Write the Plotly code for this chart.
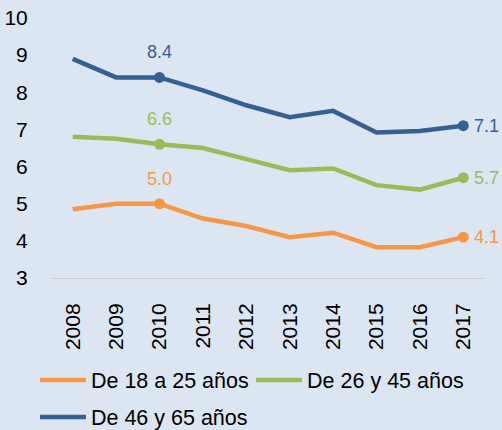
import plotly.graph_objects as go

years = ["2008", "2009", "2010", "2011", "2012", "2013", "2014", "2015", "2016", "2017"]
s18_25 = [4.85, 5.0, 5.0, 4.6, 4.4, 4.1, 4.22, 3.83, 3.83, 4.1]
s26_45 = [6.8, 6.75, 6.6, 6.5, 6.2, 5.9, 5.95, 5.5, 5.38, 5.7]
s46_65 = [8.9, 8.4, 8.4, 8.05, 7.65, 7.33, 7.5, 6.92, 6.96, 7.1]
names = ["De 18 a 25 años", "De 26 y 45 años", "De 46 y 65 años"]
colors = ["#F79646", "#9BBB59", "#376092"]
label_idx = [2, 9]

FONT = "Arial, Liberation Sans, sans-serif"
TICK = 21
fig = go.Figure()
annotations = []
legends = ["legend", "legend2", "legend3"]
for name, vals, col, lg in zip(names, [s18_25, s26_45, s46_65], colors, legends):
    fig.add_trace(go.Scatter(
        x=years, y=vals, name=name, mode="lines", legend=lg,
        line=dict(color=col, width=4.5),
    ))
    fig.add_trace(go.Scatter(
        x=[years[i] for i in label_idx], y=[vals[i] for i in label_idx],
        mode="markers", showlegend=False, hoverinfo="skip",
        marker=dict(size=11, color=col, opacity=1, line=dict(width=0)),
    ))
    i = label_idx[0]
    annotations.append(dict(x=i, y=vals[i], text=f"{vals[i]:.1f}", showarrow=False,
                            xref="x", yref="y",
                            yshift=25, font=dict(color=col, size=18, family=FONT)))
    i = label_idx[1]
    annotations.append(dict(x=i, y=vals[i], text=f"{vals[i]:.1f}", showarrow=False,
                            xref="x", yref="y",
                            xanchor="left", xshift=9, font=dict(color=col, size=18, family=FONT)))

leg_common = dict(orientation="h", xanchor="left", yanchor="middle",
                  font=dict(size=21.5, family=FONT, color="#000000"), itemwidth=46,
                  bgcolor="rgba(0,0,0,0)")

fig.update_layout(
    width=502, height=430,
    paper_bgcolor="#DCE6F2", plot_bgcolor="#DCE6F2",
    margin=dict(l=51, r=17, t=18, b=152, autoexpand=False),
    font=dict(family=FONT, color="#000000", size=TICK),
    showlegend=True,
    legend=dict(x=-0.037, y=-0.392, **leg_common),
    legend2=dict(x=0.461, y=-0.392, **leg_common),
    legend3=dict(x=-0.037, y=-0.535, **leg_common),
    annotations=annotations,
    xaxis=dict(type="category", range=[-0.5, 9.5], tickangle=-90, showgrid=False,
               showline=True, linecolor="#D0D0D0", linewidth=1,
               ticks="outside", ticklen=16, tickcolor="rgba(0,0,0,0)",
               tickfont=dict(size=TICK, family=FONT), zeroline=False),
    yaxis=dict(range=[3, 10], dtick=1, showgrid=False, zeroline=False, showline=False,
               ticks="outside", ticklen=18, tickcolor="rgba(0,0,0,0)",
               tickfont=dict(size=TICK, family=FONT)),
)
fig.write_html("out.html", config={"displayModeBar": False},
               post_script="document.body.style.margin='0';document.body.style.background='#DCE6F2';")
